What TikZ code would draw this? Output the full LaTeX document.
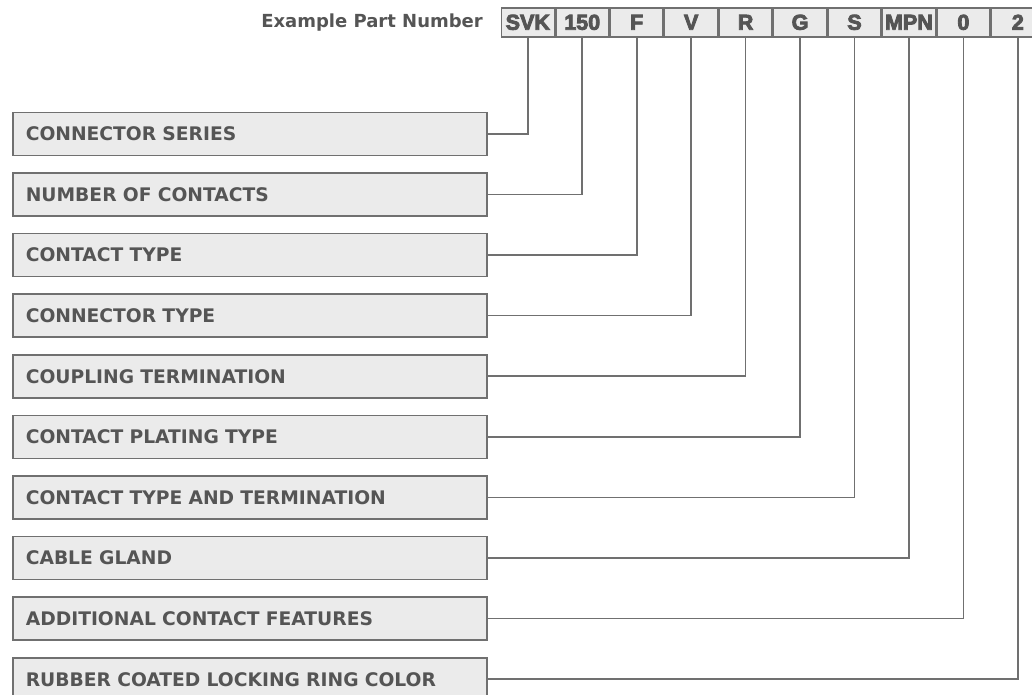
\documentclass[tikz,border=0pt]{standalone}
\usepackage{fontspec}
\setmainfont{DejaVu Sans}
\newfontfamily\labelfont{DejaVu Sans Bold}
\newfontfamily\codefont{Liberation Sans Bold}[FakeBold=4]
\definecolor{txt}{HTML}{555555}
\definecolor{edge}{HTML}{707070}
\definecolor{boxfill}{HTML}{EBEBEB}
\tikzset{
  labelbox/.style={draw=edge, fill=boxfill, line width=1.6pt, minimum width=474pt,
    minimum height=43pt, text width=448pt, inner xsep=13pt, inner ysep=0pt, align=left,
    anchor=north west, text=txt, font=\labelfont\fontsize{18.7}{21}\selectfont},
  codebox/.style={draw=edge, fill=boxfill, line width=1.6pt, minimum width=53pt,
    minimum height=29pt, inner sep=0pt, anchor=north west, text=txt,
    font=\codefont\fontsize{21.5}{24}\selectfont},
  conn/.style={draw=edge, line width=1.6pt},
  title/.style={anchor=base east, inner sep=0pt, text=txt, font=\labelfont\fontsize{18}{21}\selectfont}
}
\begin{document}
\begin{tikzpicture}[x=1pt,y=-1pt]
\useasboundingbox (0,0) rectangle (1032,694);
\clip (0,0) rectangle (1032,694);
\node[title] (title) at (483,27) {Example Part Number};
\foreach \c [count=\i from 0] in {SVK,150,F,V,R,G,S,MPN,0,2} {
  \node[codebox] (c\i) at ({500.5+54.45*\i},7) {\c};
}
\foreach \t [count=\i from 0] in {CONNECTOR SERIES,NUMBER OF CONTACTS,CONTACT TYPE,CONNECTOR TYPE,COUPLING TERMINATION,CONTACT PLATING TYPE,CONTACT TYPE AND TERMINATION,CABLE GLAND,ADDITIONAL CONTACT FEATURES,RUBBER COATED LOCKING RING COLOR} {
  \node[labelbox] (l\i) at (12,{111.5+60.6*\i}) {\t};
}
\foreach \i in {0,...,9} {
  \draw[conn] (l\i.east) -| (c\i.south);
}
\end{tikzpicture}
\end{document}
